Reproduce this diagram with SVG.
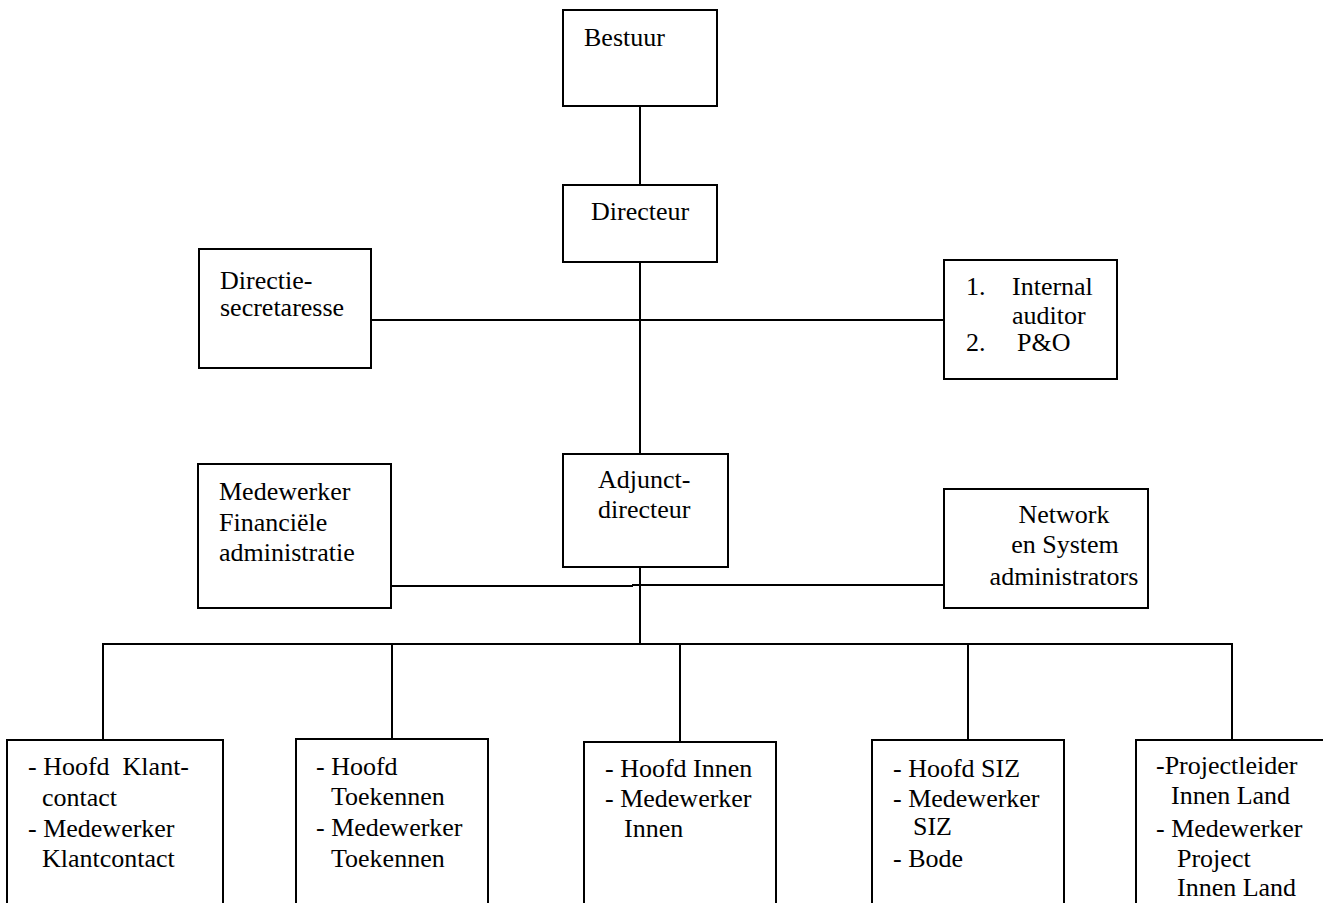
<svg xmlns="http://www.w3.org/2000/svg" width="1323" height="903" viewBox="0 0 1323 903" font-family="'Liberation Serif', 'Times New Roman', serif">
<style>
rect{fill:#fff;stroke:#000;stroke-width:2}
line{stroke:#000;stroke-width:2}
text{font-family:'Liberation Serif','Times New Roman',serif;font-size:26px;fill:#000}
.m{text-anchor:middle}
</style>
<rect x="0" y="0" width="1323" height="903" style="stroke:none"/>
<g id="connectors">
<line x1="640" y1="106" x2="640" y2="185"/>
<line x1="640" y1="262" x2="640" y2="454"/>
<line x1="367" y1="320" x2="944" y2="320"/>
<line x1="640" y1="567" x2="640" y2="644"/>
<line x1="391" y1="586" x2="633" y2="586"/>
<line x1="632" y1="585" x2="944" y2="585"/>
<line x1="102" y1="644" x2="1233" y2="644"/>
<line x1="103" y1="643" x2="103" y2="740"/>
<line x1="392" y1="643" x2="392" y2="740"/>
<line x1="680" y1="643" x2="680" y2="742"/>
<line x1="968" y1="643" x2="968" y2="740"/>
<line x1="1232" y1="643" x2="1232" y2="740"/>
</g>
<g id="bestuur">
<rect x="563" y="10" width="154" height="96"/>
<text x="584" y="46">Bestuur</text>
</g>
<g id="directeur">
<rect x="563" y="185" width="154" height="77"/>
<text x="591" y="220">Directeur</text>
</g>
<g id="directiesecretaresse">
<rect x="199" y="249" width="172" height="119"/>
<text x="220" y="289">Directie-</text>
<text x="220" y="316">secretaresse</text>
</g>
<g id="internalauditor">
<rect x="944" y="260" width="173" height="119"/>
<text x="966" y="295">1.</text>
<text x="1012" y="295">Internal</text>
<text x="1012" y="324">auditor</text>
<text x="966" y="351">2.</text>
<text x="1017" y="351">P&amp;O</text>
</g>
<g id="adjunctdirecteur">
<rect x="563" y="454" width="165" height="113"/>
<text x="598" y="488">Adjunct-</text>
<text x="598" y="518">directeur</text>
</g>
<g id="financieel">
<rect x="198" y="464" width="193" height="144"/>
<text x="219" y="500">Medewerker</text>
<text x="219" y="531">Financiële</text>
<text x="219" y="561">administratie</text>
</g>
<g id="network">
<rect x="944" y="489" width="204" height="119"/>
<text class="m" x="1064" y="523">Network</text>
<text class="m" x="1065" y="553">en System</text>
<text class="m" x="1064" y="585">administrators</text>
</g>
<g id="klantcontact">
<rect x="7" y="740" width="216" height="180"/>
<text x="28" y="775" xml:space="preserve">- Hoofd  Klant-</text>
<text x="42" y="806">contact</text>
<text x="28" y="837">- Medewerker</text>
<text x="42" y="867">Klantcontact</text>
</g>
<g id="toekennen">
<rect x="296" y="739" width="192" height="180"/>
<text x="316" y="775">- Hoofd</text>
<text x="331" y="805">Toekennen</text>
<text x="316" y="836">- Medewerker</text>
<text x="331" y="867">Toekennen</text>
</g>
<g id="innen">
<rect x="584" y="742" width="192" height="180"/>
<text x="605" y="777">- Hoofd Innen</text>
<text x="605" y="807">- Medewerker</text>
<text x="624" y="837">Innen</text>
</g>
<g id="siz">
<rect x="872" y="740" width="192" height="180"/>
<text x="893" y="777">- Hoofd SIZ</text>
<text x="893" y="807">- Medewerker</text>
<text x="913" y="835">SIZ</text>
<text x="893" y="867">- Bode</text>
</g>
<g id="innenland">
<rect x="1136" y="740" width="200" height="180"/>
<text x="1156" y="774">-Projectleider</text>
<text x="1171" y="804">Innen Land</text>
<text x="1156" y="837">- Medewerker</text>
<text x="1177" y="867">Project</text>
<text x="1177" y="896">Innen Land</text>
</g>
</svg>
